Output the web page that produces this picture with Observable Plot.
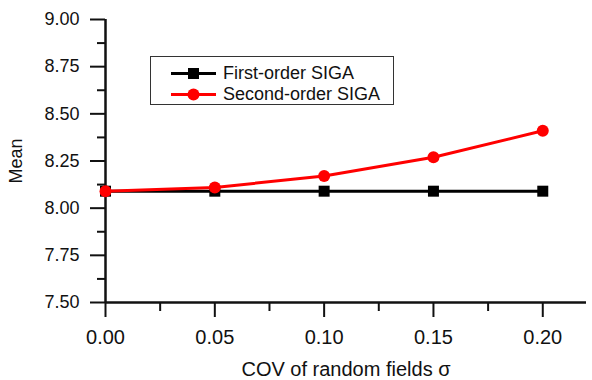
<!DOCTYPE html>
<html>
<head>
<meta charset="utf-8">
<script src="https://cdn.jsdelivr.net/npm/d3@7"></script>
<script src="https://cdn.jsdelivr.net/npm/@observablehq/plot@0.6"></script>
<style>
  html, body { margin: 0; padding: 0; background: #fff; }
  #wrap { position: relative; width: 592px; height: 380px; font-family: "Liberation Sans", Arial, sans-serif; }
  #legend { position: absolute; left: 150px; top: 56px; width: 244px; height: 49px; border: 1.5px solid #333; box-sizing: border-box; background: #fff; }
  .row { position: absolute; left: 20px; height: 20px; display: flex; align-items: center; font-size: 18px; color: #111; }
  .row svg { margin-right: 6px; }
</style>
</head>
<body>
<div id="wrap"></div>
<script>
const sigma = [0, 0.05, 0.10, 0.15, 0.20];
const firstOrder = [8.09, 8.09, 8.09, 8.09, 8.09];
const secondOrder = [8.09, 8.11, 8.17, 8.27, 8.41];
const seriesNames = ["First-order SIGA", "Second-order SIGA"];
const seriesColors = ["#000000", "#ff0000"];
const yTicks = [7.50, 7.75, 8.00, 8.25, 8.50, 8.75, 9.00];
const yMinor = [7.625, 7.875, 8.125, 8.375, 8.625, 8.875];
const xTicks = [0.00, 0.05, 0.10, 0.15, 0.20];
const xMinor = [0.025, 0.075, 0.125, 0.175];
const xLabel = "COV of random fields σ";
const yLabel = "Mean";

const first = sigma.map((s, i) => ({s, v: firstOrder[i]}));
const second = sigma.map((s, i) => ({s, v: secondOrder[i]}));

const chart = Plot.plot({
  width: 592,
  height: 380,
  marginTop: 19,
  marginBottom: 78,
  marginLeft: 105,
  marginRight: 6,
  style: {fontFamily: "'Liberation Sans', Arial, sans-serif", fontSize: "18px", color: "#111", background: "#fff"},
  x: {domain: [0, 0.22]},
  y: {domain: [7.5, 9.0]},
  marks: [
    Plot.axisY({ticks: yTicks, tickSize: 15, tickPadding: 11, strokeWidth: 2, tickFormat: d => d.toFixed(2), fontSize: 18,
                label: yLabel, labelAnchor: "center", labelOffset: 96, labelArrow: "none"}),
    Plot.axisY({ticks: yMinor, tickSize: 8, strokeWidth: 2, text: null, label: null}),
    Plot.axisX({ticks: xTicks, tickSize: 15, tickPadding: 12, strokeWidth: 2, tickFormat: d => d.toFixed(2), fontSize: 20,
                label: xLabel, labelAnchor: "center", labelOffset: 73, labelArrow: "none"}),
    Plot.axisX({ticks: xMinor, tickSize: 9, strokeWidth: 2, text: null, label: null}),
    Plot.ruleX([0], {strokeWidth: 2.5}),
    Plot.ruleY([7.5], {strokeWidth: 2.5}),
    Plot.line(first, {x: "s", y: "v", stroke: seriesColors[0], strokeWidth: 3}),
    Plot.dot(first, {x: "s", y: "v", symbol: "square", r: 6.2, fill: seriesColors[0]}),
    Plot.line(second, {x: "s", y: "v", stroke: seriesColors[1], strokeWidth: 3}),
    Plot.dot(second, {x: "s", y: "v", symbol: "circle", r: 6, fill: seriesColors[1]})
  ]
});
const wrap = document.getElementById("wrap");
wrap.appendChild(chart);

// legend
const legend = document.createElement("div");
legend.id = "legend";
seriesNames.forEach((name, i) => {
  const row = document.createElement("div");
  row.className = "row";
  row.style.top = (i === 0 ? 6 : 27) + "px";
  const sym = i === 0
    ? `<rect x="17" y="4" width="11" height="11" fill="${seriesColors[i]}"/>`
    : `<circle cx="22.5" cy="9.5" r="6" fill="${seriesColors[i]}"/>`;
  row.innerHTML = `<svg width="46" height="19"><line x1="0" x2="45" y1="9.5" y2="9.5" stroke="${seriesColors[i]}" stroke-width="3"/>${sym}</svg><span>${name}</span>`;
  legend.appendChild(row);
});
wrap.appendChild(legend);
</script>
</body>
</html>
